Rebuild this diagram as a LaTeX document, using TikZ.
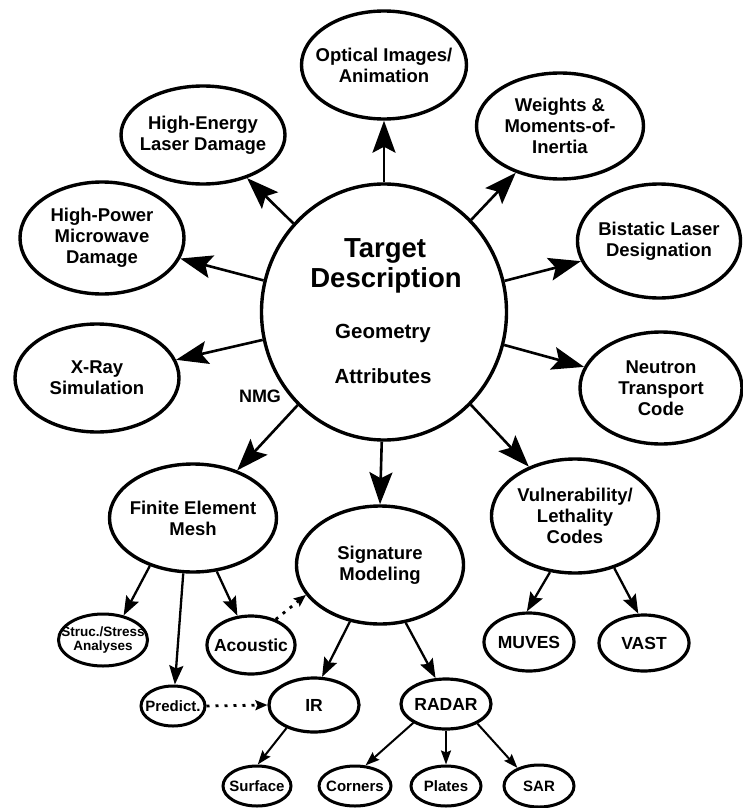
\documentclass[tikz,border=0pt]{standalone}
\usepackage{fontspec}
\setmainfont{Liberation Sans}
\usetikzlibrary{shapes.geometric,arrows.meta}
\begin{document}
\begin{tikzpicture}[x=1pt,y=-1pt,
  ell/.style={ellipse, draw, line width=3.4pt, inner sep=-20pt, align=center,
    font=\bfseries\fontsize{18.5}{21}\selectfont},
  mell/.style={ellipse, draw, line width=3.2pt, inner sep=-20pt, align=center,
    font=\bfseries\fontsize{17.5}{19}\selectfont},
  sell/.style={ellipse, draw, line width=3pt, inner sep=-20pt, align=center,
    font=\bfseries\fontsize{15}{16}\selectfont},
  big/.style={line width=2.6pt, -{Stealth[length=32pt,width=23pt,inset=6pt]}},
  mid/.style={line width=2.3pt, -{Stealth[length=19pt,width=14pt,inset=3pt]}},
  sml/.style={line width=2pt, -{Stealth[length=14pt,width=10pt,inset=2pt]}},
  dots/.style={line width=2.8pt, dash pattern=on 3pt off 6pt, -{Stealth[length=12pt,width=10pt,inset=2pt]}},
  lbl/.style={anchor=base, font=\bfseries\fontsize{18}{21}\selectfont}
]
\useasboundingbox (0,0) rectangle (742,808);

% central node
\node[ell, minimum width=245pt, minimum height=256pt] (c) at (384,312) {};
\node[anchor=base, font=\bfseries\fontsize{27.5}{29}\selectfont] (t1) at (385,257) {Target};
\node[anchor=base, font=\bfseries\fontsize{27.5}{29}\selectfont] (t2) at (386,287) {Description};
\node[anchor=base, font=\bfseries\fontsize{20.5}{22}\selectfont] (t3) at (383,338) {Geometry};
\node[anchor=base, font=\bfseries\fontsize{20.5}{22}\selectfont] (t4) at (383,383) {Attributes};

% first ring
\node[ell, minimum width=165pt, minimum height=108pt] (opt) at (384,65) {Optical Images/\\Animation};
\node[ell, minimum width=164pt, minimum height=98pt] (hel) at (203,135) {High-Energy\\Laser Damage};
\node[ell, minimum width=164pt, minimum height=112pt] (hpm) at (102,238) {High-Power\\Microwave\\Damage};
\node[ell, minimum width=164pt, minimum height=108pt] (xray) at (97,378) {X-Ray\\Simulation};
\node[ell, minimum width=167pt, minimum height=106pt] (wts) at (560,126) {Weights \&\\Moments-of-\\Inertia};
\node[ell, minimum width=163pt, minimum height=114pt] (bis) at (659,241) {Bistatic Laser\\Designation};
\node[ell, minimum width=162pt, minimum height=112pt] (neu) at (661,388) {Neutron\\Transport\\Code};
\node[ell, minimum width=167pt, minimum height=114pt] (vul) at (575,516) {Vulnerability/\\Lethality\\Codes};
\node[ell, minimum width=167pt, minimum height=108pt] (fem) at (193,518) {Finite Element\\Mesh};
\node[ell, minimum width=167pt, minimum height=118pt] (sig) at (380,565) {Signature\\Modeling};

\node[lbl] (nmg) at (260,402) {NMG};

% second level
\node[sell, minimum width=89pt, minimum height=52pt, font=\bfseries\fontsize{13.5}{14.5}\selectfont] (struc) at (103,640) {Struc./Stress\\Analyses};
\node[mell, minimum width=88pt, minimum height=58pt] (aco) at (251,645) {Acoustic};
\node[sell, minimum width=64pt, minimum height=40pt] (pred) at (173,706) {Predict.};
\node[mell, minimum width=90pt, minimum height=54pt] (ir) at (314,705) {IR};
\node[mell, minimum width=90pt, minimum height=50pt] (radar) at (446,704) {RADAR};
\node[mell, minimum width=90pt, minimum height=58pt] (muves) at (529,642) {MUVES};
\node[mell, minimum width=90pt, minimum height=56pt] (vast) at (644,643) {VAST};

% third level
\node[sell, minimum width=68pt, minimum height=40pt] (surf) at (257,786) {Surface};
\node[sell, minimum width=72pt, minimum height=40pt] (corn) at (355,786) {Corners};
\node[sell, minimum width=70pt, minimum height=40pt] (plat) at (446,786) {Plates};
\node[sell, minimum width=70pt, minimum height=42pt] (sar) at (539,786) {SAR};

% central arrows
\draw[big] (c) -- (opt);
\draw[big] (c) -- (hel);
\draw[big] (c) -- (hpm);
\draw[big] (c) -- (xray);
\draw[big] (c) -- (fem);
\draw[big] (c.-91) -- (sig.north);
\draw[big] (c) -- (vul);
\draw[big] (c) -- (neu);
\draw[big] (c) -- (bis);
\draw[big] (c) -- (wts);

% second level arrows
\draw[mid] (fem.-132) -- (struc.50);
\draw[mid] (fem.-100) -- (pred.85);
\draw[mid] (fem.-66) -- (aco.115);
\draw[dots] (aco.46) -- (sig.-158);
\draw[mid] (sig.-118) -- (ir.74);
\draw[mid] (sig.-66) -- (radar.112);
\draw[mid] (vul.-114) -- (muves.94);
\draw[mid] (vul.-53) -- (vast.101);
\draw[dots] (pred.east) -- (ir.west);

% third level arrows
\draw[sml] (ir.-140) -- (surf.88);
\draw[sml] (radar.-150) -- (corn.63);
\draw[sml] (radar.south) -- (plat.north);
\draw[sml] (radar.-32) -- (sar.140);
\end{tikzpicture}
\end{document}
